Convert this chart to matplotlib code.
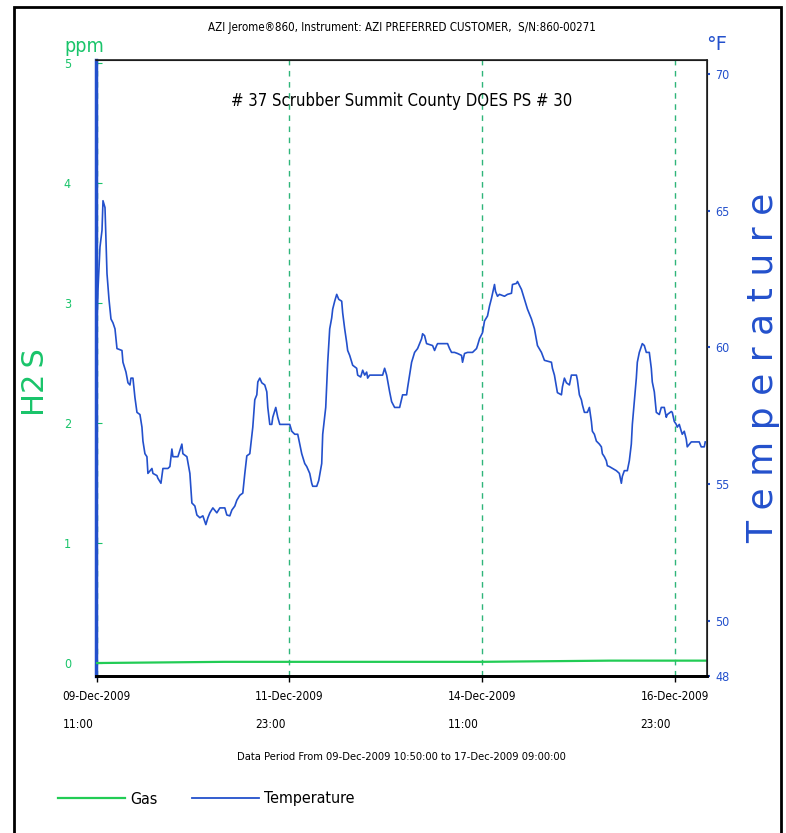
import datetime as dt
import matplotlib
matplotlib.use("Agg")
import matplotlib.pyplot as plt
import matplotlib.dates as mdates
from matplotlib.lines import Line2D
from matplotlib.patches import Rectangle

NARROW = dict(family="DejaVu Sans", stretch="condensed")
GREEN = "#19c46a"
BLUE = "#2350cc"

START = dt.datetime(2009, 12, 9, 10, 50)
END = dt.datetime(2009, 12, 17, 9, 0)

# temperature log: hours after START, deg F
temp_hours = [
    0.2, 0.62, 1.24, 1.87, 2.18, 2.80, 3.42, 3.73, 4.04, 4.66, 5.28, 5.91, 6.53, 8.08,
    8.39, 9.33, 9.95, 10.57, 10.88, 11.50, 12.12, 12.75, 13.68, 14.30, 14.61, 15.23,
    15.85, 16.16, 17.41, 17.72, 18.96, 19.27, 20.21, 20.83, 22.38, 23.00, 23.62, 23.94,
    25.49, 26.73, 27.04, 28.29, 29.22, 29.84, 30.77, 31.40, 32.33, 33.26, 34.19, 34.82,
    35.44, 36.37, 37.61, 38.55, 40.10, 40.72, 41.65, 42.28, 43.21, 43.83, 44.76, 45.69,
    46.32, 46.94, 47.87, 48.80, 49.42, 50.05, 50.36, 50.98, 51.60, 52.53, 53.16, 53.47,
    54.09, 54.71, 55.02, 55.95, 56.57, 57.20, 60.30, 60.93, 61.86, 62.79, 63.41, 64.03,
    64.97, 65.59, 66.52, 67.14, 67.45, 68.70, 69.32, 70.25, 70.56, 71.50, 72.12, 72.74,
    73.36, 73.67, 74.29, 74.92, 75.54, 76.47, 76.78, 77.40, 78.02, 78.33, 78.96, 79.89,
    81.13, 81.44, 82.38, 83.00, 83.62, 84.24, 84.55, 85.17, 89.21, 89.83, 90.46, 91.39,
    92.01, 92.94, 94.50, 95.43, 96.67, 96.98, 98.23, 99.16, 100.09, 101.34, 101.65,
    102.27, 102.89, 104.76, 105.38, 106.00, 106.31, 109.42, 110.04, 110.66, 111.59,
    112.53, 113.77, 114.08, 114.70, 115.64, 117.19, 118.43, 118.74, 119.37, 120.30,
    120.92, 121.85, 122.47, 123.10, 124.03, 124.34, 124.96, 125.58, 127.14, 128.07,
    129.31, 129.62, 130.87, 131.18, 132.42, 133.35, 134.29, 135.53, 136.46, 137.40,
    138.64, 139.57, 141.75, 142.06, 142.68, 143.61, 144.86, 145.17, 145.79, 146.41,
    147.34, 147.96, 149.52, 149.83, 150.45, 151.07, 151.38, 152.01, 152.94, 153.56,
    154.18, 154.49, 155.11, 155.74, 156.67, 157.29, 157.60, 158.22, 158.84, 159.15,
    159.78, 161.95, 162.88, 163.51, 163.82, 164.44, 165.37, 165.99, 166.61, 166.93,
    167.55, 168.17, 168.48, 169.10, 170.03, 170.66, 171.28, 172.21, 172.83, 173.14,
    173.77, 174.39, 175.32, 175.94, 176.87, 177.49, 177.81, 179.05, 179.36, 179.98,
    180.60, 180.91, 181.54, 182.16, 182.47, 183.09, 183.71, 184.02, 185.27, 187.75,
    188.37, 189.31, 189.62,
]
temp_f = [
    60.60, 62.12, 63.67, 64.28, 65.36, 65.11, 62.70, 62.23, 61.76, 61.04, 60.90, 60.68, 59.96, 59.89,
    59.46, 59.10, 58.71, 58.63, 58.88, 58.88, 58.17, 57.63, 57.55, 57.09, 56.58, 56.12,
    56.01, 55.40, 55.58, 55.40, 55.32, 55.22, 55.04, 55.58, 55.58, 55.65, 56.29, 56.01,
    56.01, 56.47, 56.12, 56.01, 55.40, 54.32, 54.21, 53.88, 53.78, 53.85, 53.53, 53.78,
    53.96, 54.14, 53.96, 54.14, 54.14, 53.88, 53.85, 54.06, 54.21, 54.42, 54.60, 54.68,
    55.40, 56.04, 56.12, 57.09, 58.09, 58.27, 58.74, 58.88, 58.71, 58.63, 58.38, 57.81,
    57.19, 57.19, 57.45, 57.81, 57.45, 57.19, 57.19, 56.94, 56.83, 56.83, 56.47, 56.12,
    55.76, 55.65, 55.40, 55.04, 54.93, 54.93, 55.14, 55.76, 56.83, 57.81, 59.46, 60.68,
    61.08, 61.40, 61.69, 61.94, 61.76, 61.69, 61.26, 60.68, 60.18, 59.89, 59.71, 59.35,
    59.24, 58.99, 58.92, 59.17, 58.99, 59.10, 58.88, 58.99, 58.99, 59.24, 58.99, 58.38,
    58.02, 57.81, 57.81, 58.27, 58.27, 58.53, 59.46, 59.82, 59.96, 60.32, 60.50,
    60.43, 60.14, 60.07, 59.89, 60.07, 60.14, 60.14, 59.96, 59.82, 59.82,
    59.78, 59.71, 59.46, 59.78, 59.82, 59.82, 59.96, 60.07, 60.32, 60.54,
    60.97, 61.15, 61.51, 61.80, 62.30, 62.05, 61.87, 61.94, 61.87, 61.94,
    61.98, 62.30, 62.34, 62.41, 62.12, 61.76, 61.40, 61.04, 60.68, 60.07,
    59.82, 59.53, 59.46, 59.24, 58.99, 58.35, 58.27, 58.56, 58.88, 58.71,
    58.63, 58.99, 58.99, 58.81, 58.27, 58.09, 57.91, 57.63, 57.63, 57.81,
    57.30, 56.94, 56.83, 56.58, 56.47, 56.37, 56.12, 56.01, 55.86, 55.68,
    55.65, 55.50, 55.40, 55.04, 55.29, 55.50, 55.50, 55.86, 56.47, 57.19,
    58.02, 58.88, 59.46, 59.82, 60.14, 60.07, 59.82, 59.82, 59.24, 58.74,
    58.38, 57.63, 57.55, 57.81, 57.81, 57.45, 57.55, 57.66, 57.63, 57.30,
    57.19, 57.09, 57.19, 56.94, 56.83, 56.94, 56.65, 56.37, 56.55, 56.55,
    56.37, 56.37, 56.55,
]

# H2S reading, ppm
gas_hours = [0.0, 40.0, 80.0, 120.0, 160.0, 190.0]
gas_ppm = [0.0, 0.01, 0.01, 0.01, 0.02, 0.02]

tick_times = [dt.datetime(2009, 12, 9, 11), dt.datetime(2009, 12, 11, 23),
              dt.datetime(2009, 12, 14, 11), dt.datetime(2009, 12, 16, 23)]
ppm_ticks = [0, 1, 2, 3, 4, 5]
temp_ticks = [48, 50, 55, 60, 65, 70]

t_temp = [START + dt.timedelta(hours=h) for h in temp_hours]
t_gas = [START + dt.timedelta(hours=h) for h in gas_hours]

fig = plt.figure(figsize=(7.86, 8.33), dpi=100)
ax = fig.add_axes([96 / 786, 1 - 676 / 833, 611 / 786, 616 / 833])
ax2 = ax.twinx()

# vertical dashed grid at the date ticks
for t in tick_times:
    ax.axvline(t, color="#2fb57a", lw=1.0, ls=(0, (4, 4)), zorder=1)

ax.plot(t_gas, gas_ppm, color="#22cc55", lw=1.6, zorder=3)
ax2.plot(t_temp, temp_f, color=BLUE, lw=1.2, zorder=3)

ax.set_xlim(START, END)
ax.set_ylim(-0.108, 5.025)
ax2.set_ylim(48, 70.5)

ax.set_xticks(tick_times)
ax.xaxis.set_major_formatter(mdates.DateFormatter("%d-%b-%Y\n\n%H:%M"))
ax.tick_params(axis="x", length=4, width=1, labelsize=8.5, pad=6, colors="black")
for lb in ax.get_xticklabels():
    lb.set_multialignment("left")
    lb.set_linespacing(1.12)
    lb.set_fontproperties(dict(size=8.5, **NARROW))

ax.set_yticks(ppm_ticks)
ax.tick_params(axis="y", direction="in", length=4, color=GREEN, labelcolor=GREEN, pad=18)
ax2.set_yticks(temp_ticks)
ax2.tick_params(axis="y", length=2, width=1.5, color=BLUE, labelcolor=BLUE, pad=4)
for lb in ax.get_yticklabels() + ax2.get_yticklabels():
    lb.set_fontproperties(dict(size=9, **NARROW))

ax.spines["left"].set_color(BLUE)
ax.spines["left"].set_linewidth(2.5)
ax2.spines["left"].set_visible(False)
ax.spines["bottom"].set_linewidth(2)
ax2.spines["bottom"].set_linewidth(2)
for sp in ("top", "right"):
    ax2.spines[sp].set_color("#222")
    ax2.spines[sp].set_linewidth(1.2)

ax.text(0.5, 0.933, "# 37 Scrubber Summit County DOES PS # 30", transform=ax.transAxes,
        ha="center", va="center", fontsize=12, **NARROW)

fig.text(402 / 786, 1 - 28 / 833,
         "AZI Jerome\u00ae860, Instrument: AZI PREFERRED CUSTOMER,  S/N:860-00271",
         ha="center", va="center", fontsize=8.3, **NARROW)
fig.text(84 / 786, 1 - 47 / 833, "ppm", ha="center", va="center", fontsize=14,
         color=GREEN, **NARROW)
fig.text(717 / 786, 1 - 45 / 833, "\u00b0F", ha="center", va="center", fontsize=14,
         color=BLUE)
fig.text(35 / 786, 1 - 382 / 833, "H2\u2009S", rotation=90, ha="center", va="center",
         fontsize=22, color=GREEN)
fig.text(763 / 786, 1 - 368 / 833, " ".join("Temperature"), rotation=90,
         ha="center", va="center", fontsize=26, color=BLUE)
fig.text(401 / 786, 1 - 757 / 833,
         "Data Period From 09-Dec-2009 10:50:00 to 17-Dec-2009 09:00:00",
         ha="center", va="center", fontsize=8, **NARROW)

handles = [Line2D([], [], color="#22cc55", lw=1.6), Line2D([], [], color=BLUE, lw=1.3)]
fig.legend(handles, ["Gas", "Temperature"], loc="center left",
           bbox_to_anchor=(50 / 786, 1 - 799 / 833), ncol=2, frameon=False,
           handlelength=4.2, handletextpad=0.3, columnspacing=2.2, borderpad=0,
           prop=dict(size=11.5, **NARROW))

# page border
fig.add_artist(Rectangle((14 / 786, -0.05), 767 / 786, 1.05 - 7 / 833, fill=False,
                         lw=2, ec="black", transform=fig.transFigure))

fig.savefig("out.png", dpi=100)
